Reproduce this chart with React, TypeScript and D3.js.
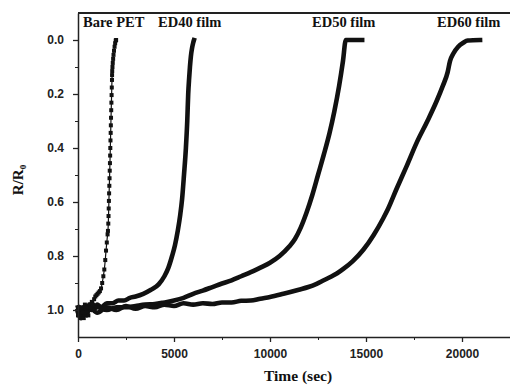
import React, { useEffect, useRef } from 'react';
import * as d3 from 'd3';

const W = 510;
const H = 386;

// axis ticks
const xMajor = [0, 5000, 10000, 15000, 20000];
const xMinor = [2500, 7500, 12500, 17500, 22500];
const yMajor = [0, 0.2, 0.4, 0.6, 0.8, 1.0];
const yMinor = [0.1, 0.3, 0.5, 0.7, 0.9];

// [time (sec), R/R0]
const barePET: [number, number][] = [
  [0, 1.02], [60, 0.99], [120, 1.03], [180, 0.99], [240, 1.01], [300, 1.03], [360, 0.98],
  [420, 1.01], [480, 0.99], [540, 1.02], [600, 0.98], [660, 0.99], [720, 0.97], [780, 0.98],
  [840, 0.96], [900, 0.95], [960, 0.945], [1020, 0.94], [1080, 0.935], [1140, 0.93],
  [1200, 0.92], [1260, 0.9], [1320, 0.875], [1370, 0.85], [1420, 0.815], [1460, 0.78],
  [1500, 0.75], [1540, 0.72], [1560, 0.707],
  [1578, 0.68], [1590, 0.652], [1600, 0.624], [1610, 0.596], [1620, 0.568], [1632, 0.54],
  [1643, 0.512], [1653, 0.484], [1664, 0.456], [1674, 0.428], [1683, 0.4], [1692, 0.372],
  [1702, 0.344], [1711, 0.316], [1720, 0.288], [1730, 0.26], [1740, 0.232], [1750, 0.204],
  [1760, 0.176], [1770, 0.148],
  [1775, 0.13], [1782, 0.115], [1795, 0.1], [1810, 0.085], [1830, 0.07], [1850, 0.055],
  [1875, 0.04], [1905, 0.025], [1935, 0.012], [1965, 0.002], [1985, 0.0],
];

const ed40: [number, number][] = [
  [0, 1.01], [150, 1.03], [300, 0.99], [450, 1.02], [600, 0.98], [800, 1.0], [1000, 0.98],
  [1200, 0.99], [1500, 0.975], [1800, 0.975], [2100, 0.965], [2400, 0.965], [2700, 0.955],
  [3000, 0.95], [3400, 0.94], [3800, 0.925], [4200, 0.905], [4500, 0.875], [4700, 0.845],
  [4900, 0.8], [5050, 0.76], [5200, 0.705], [5320, 0.65], [5420, 0.59], [5520, 0.5],
  [5620, 0.4], [5690, 0.3], [5740, 0.2], [5790, 0.14], [5830, 0.1], [5880, 0.06],
  [5940, 0.03], [6000, 0.01], [6040, 0.0],
];

const ed50: [number, number][] = [
  [0, 0.99], [200, 1.02], [400, 0.985], [700, 1.0], [1000, 0.99], [1500, 1.0], [2000, 0.99],
  [2500, 0.99], [3000, 0.985], [3500, 0.98], [4000, 0.978], [4500, 0.972], [5000, 0.965],
  [5500, 0.955], [6000, 0.94], [6500, 0.928], [7000, 0.915], [7500, 0.902], [8000, 0.89],
  [8500, 0.875], [9000, 0.86], [9500, 0.843], [10000, 0.825], [10500, 0.8], [11000, 0.765],
  [11300, 0.737], [11600, 0.695], [11900, 0.64], [12200, 0.575], [12500, 0.5], [12800, 0.425],
  [13100, 0.345], [13350, 0.265], [13600, 0.17], [13800, 0.078], [13950, 0.0],
  [14300, 0.0], [14800, 0.0],
];

const ed60: [number, number][] = [
  [0, 1.0], [300, 1.02], [600, 0.99], [1000, 1.01], [1500, 0.99], [2000, 1.0], [2500, 0.985],
  [3000, 0.995], [3500, 0.985], [4000, 0.99], [4500, 0.98], [5000, 0.985], [5500, 0.975],
  [6000, 0.98], [6500, 0.975], [7000, 0.978], [7500, 0.972], [8000, 0.972], [8500, 0.966],
  [9000, 0.965], [9500, 0.958], [10000, 0.952], [10700, 0.94], [11500, 0.925], [12000, 0.915],
  [12430, 0.903], [12800, 0.89], [13200, 0.876], [13500, 0.864], [13820, 0.848], [14300, 0.82],
  [14860, 0.777], [15400, 0.722], [15900, 0.66], [16150, 0.625], [16600, 0.55], [17100, 0.47],
  [17640, 0.38], [18200, 0.3], [18680, 0.226], [19000, 0.17], [19250, 0.12], [19375, 0.078],
  [19550, 0.05], [19800, 0.025], [20070, 0.01], [20300, 0.002], [20940, 0.0],
];

const seriesNames = ['Bare PET', 'ED40 film', 'ED50 film', 'ED60 film'];
const labelTimes = [260, 4170, 12190, 18700];

const App = () => {
  const svgRef = useRef(null);

  useEffect(() => {
    const svg = d3.select(svgRef.current);
    svg.selectAll('*').remove();

    const x = d3.scaleLinear().domain([0, 22500]).range([78, 510]);
    const y = d3.scaleLinear().domain([-0.1, 1.1]).range([13, 337]);
    const ink = '#111';

    svg.append('rect').attr('width', W).attr('height', H).attr('fill', '#fff');

    const line = d3.line<[number, number]>()
      .x(d => x(d[0]))
      .y(d => y(d[1]))
      .curve(d3.curveMonotoneX);

    // dense series as thick lines
    [ed40, ed50, ed60].forEach(s => {
      svg.append('path')
        .datum(s)
        .attr('d', line)
        .attr('fill', 'none')
        .attr('stroke', ink)
        .attr('stroke-width', 4.6)
        .attr('stroke-linejoin', 'round')
        .attr('stroke-linecap', 'square');
    });

    // bare PET: line + square symbols
    svg.append('path')
      .datum(barePET)
      .attr('d', line)
      .attr('fill', 'none')
      .attr('stroke', ink)
      .attr('stroke-width', 1.2);
    svg.append('g')
      .selectAll('rect')
      .data(barePET)
      .join('rect')
      .attr('x', d => x(d[0]) - 2)
      .attr('y', d => y(d[1]) - 2)
      .attr('width', 4)
      .attr('height', 4)
      .attr('fill', ink);

    // axes
    const tickFont = (g: any) => g
      .attr('font-family', '"Liberation Sans", Arial, sans-serif')
      .attr('font-weight', 'bold')
      .attr('font-size', 12)
      .attr('color', '#222');

    const yAxis = svg.append('g')
      .attr('transform', 'translate(78,0)')
      .call(d3.axisLeft(y).tickValues(yMajor).tickFormat(d3.format('.1f')).tickSize(5).tickPadding(9).tickSizeOuter(0))
      .call(tickFont);
    yAxis.select('.domain').attr('stroke-width', 1.5);
    yAxis.selectAll('.tick line').attr('stroke-width', 1.3);

    svg.append('g')
      .attr('transform', 'translate(78,0)')
      .call(d3.axisLeft(y).tickValues(yMinor).tickFormat(() => '').tickSize(3).tickSizeOuter(0))
      .call(g => g.select('.domain').remove())
      .attr('color', '#222');

    const xAxis = svg.append('g')
      .attr('transform', 'translate(0,337)')
      .call(d3.axisBottom(x).tickValues(xMajor).tickFormat(d3.format('d')).tickSize(5).tickPadding(7).tickSizeOuter(0))
      .call(tickFont);
    xAxis.select('.domain').attr('stroke-width', 1.5);
    xAxis.selectAll('.tick line').attr('stroke-width', 1.3);

    svg.append('g')
      .attr('transform', 'translate(0,337)')
      .call(d3.axisBottom(x).tickValues(xMinor).tickFormat(() => '').tickSize(3).tickSizeOuter(0))
      .call(g => g.select('.domain').remove())
      .attr('color', '#222');

    // top frame
    svg.append('line')
      .attr('x1', 78).attr('x2', 510)
      .attr('y1', 13).attr('y2', 13)
      .attr('stroke', '#222')
      .attr('stroke-width', 1.8);

    // series labels
    svg.append('g')
      .selectAll('text')
      .data(seriesNames)
      .join('text')
      .attr('x', (d, i) => x(labelTimes[i]))
      .attr('y', 27)
      .attr('font-family', '"Liberation Serif", "Times New Roman", serif')
      .attr('font-weight', 'bold')
      .attr('font-size', 14.5)
      .attr('fill', ink)
      .text(d => d);

    // axis titles
    svg.append('text')
      .attr('x', 298)
      .attr('y', 381)
      .attr('text-anchor', 'middle')
      .attr('font-family', '"Liberation Serif", "Times New Roman", serif')
      .attr('font-weight', 'bold')
      .attr('font-size', 15.5)
      .attr('fill', ink)
      .text('Time (sec)');

    const yt = svg.append('text')
      .attr('transform', 'translate(23,180) rotate(-90)')
      .attr('text-anchor', 'middle')
      .attr('font-family', '"Liberation Serif", "Times New Roman", serif')
      .attr('font-weight', 'bold')
      .attr('font-size', 15)
      .attr('fill', ink);
    yt.append('tspan').text('R/R');
    yt.append('tspan').attr('font-size', 9).attr('dy', 3).text('0');
  }, []);

  return (
    <div style={{ position: 'fixed', left: 0, top: 0, width: W, height: H, background: '#fff' }}>
      <svg ref={svgRef} width={W} height={H} style={{ display: 'block' }} />
    </div>
  );
};

export default App;
